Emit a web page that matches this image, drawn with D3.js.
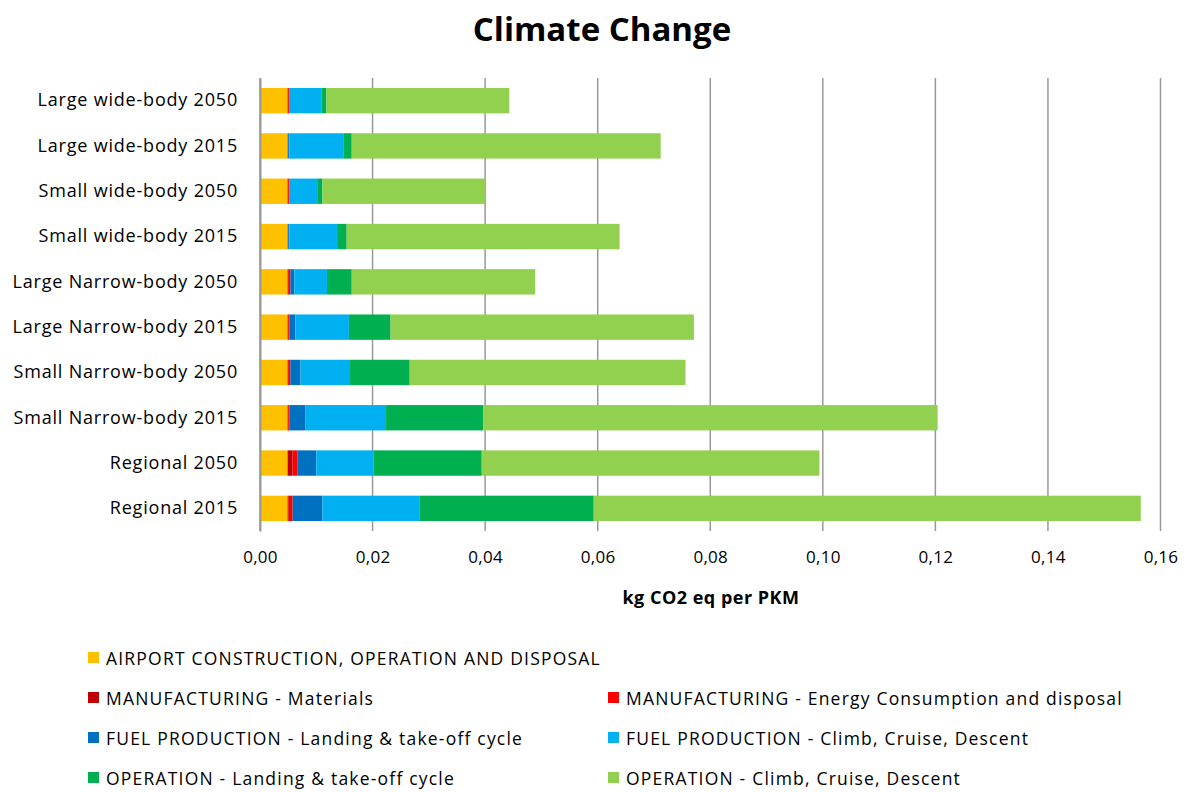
<!DOCTYPE html>
<html>
<head>
<meta charset="utf-8">
<script src="https://cdn.jsdelivr.net/npm/d3@7"></script>
<style>
  body { margin: 0; background: #fff; }
  svg { display: block; font-family: "Open Sans", sans-serif; }
</style>
</head>
<body>
<div id="chart"></div>
<script>
// categories, top to bottom
const categories = [
  "Large wide-body 2050",
  "Large wide-body 2015",
  "Small wide-body 2050",
  "Small wide-body 2015",
  "Large Narrow-body 2050",
  "Large Narrow-body 2015",
  "Small Narrow-body 2050",
  "Small Narrow-body 2015",
  "Regional 2050",
  "Regional 2015"
]
const seriesNames = [
  "AIRPORT CONSTRUCTION, OPERATION AND DISPOSAL",
  "MANUFACTURING - Materials",
  "MANUFACTURING - Energy Consumption and disposal",
  "FUEL PRODUCTION - Landing & take-off cycle",
  "FUEL PRODUCTION - Climb, Cruise, Descent",
  "OPERATION - Landing & take-off cycle",
  "OPERATION - Climb, Cruise, Descent"
]
const colors = ["#FFC000", "#C00000", "#FF0000", "#0070C0", "#00B0F0", "#00B050", "#92D050"]

// kg CO2 eq per PKM
const airport     = [0.0049, 0.0049, 0.0049, 0.0049, 0.0049, 0.0049, 0.0049, 0.0049, 0.0049, 0.0049]
const mfgMaterial = [0.0001, 0.0000, 0.0001, 0.0000, 0.0001, 0.0001, 0.0001, 0.0001, 0.0009, 0.0002]
const mfgEnergy   = [0.0002, 0.0001, 0.0002, 0.0001, 0.0004, 0.0002, 0.0004, 0.0002, 0.0009, 0.0007]
const fuelLTO     = [0.0001, 0.0002, 0.0001, 0.0002, 0.0007, 0.0011, 0.0018, 0.0029, 0.0033, 0.0053]
const fuelCCD     = [0.0056, 0.0097, 0.0050, 0.0085, 0.0058, 0.0095, 0.0088, 0.0143, 0.0102, 0.0173]
const opLTO       = [0.0009, 0.0014, 0.0008, 0.0017, 0.0044, 0.0074, 0.0106, 0.0173, 0.0192, 0.0309]
const opCCD       = [0.0325, 0.0549, 0.0289, 0.0485, 0.0326, 0.0539, 0.0490, 0.0807, 0.0600, 0.0972]
const xTicks = [0, 0.02, 0.04, 0.06, 0.08, 0.10, 0.12, 0.14, 0.16]

const width = 1190
const height = 792
const margin = { top: 78, right: 30, bottom: 261, left: 260 }

const seriesValues = [airport, mfgMaterial, mfgEnergy, fuelLTO, fuelCCD, opLTO, opCCD]
const table = categories.map((c, i) => {
  const row = { cat: c }
  seriesNames.forEach((s, k) => (row[s] = seriesValues[k][i]))
  return row
})
const stacked = d3.stack().keys(seriesNames)(table)

const x = d3.scaleLinear().domain([0, 0.16]).range([margin.left, 1160.5])
const y = d3
  .scaleBand()
  .domain(categories)
  .range([margin.top, height - margin.bottom])
  .paddingInner(0.44)
  .paddingOuter(0.22)

const svg = d3
  .select("#chart")
  .append("svg")
  .attr("width", width)
  .attr("height", height)
  .attr("viewBox", [0, 0, width, height])

// title
svg
  .append("text")
  .attr("x", 602)
  .attr("y", 41)
  .attr("text-anchor", "middle")
  .attr("font-size", 33)
  .attr("font-weight", "bold")
  .attr("fill", "#000")
  .text("Climate Change")

// gridlines
svg
  .append("g")
  .selectAll("line")
  .data(xTicks)
  .join("line")
  .attr("x1", d => x(d))
  .attr("x2", d => x(d))
  .attr("y1", margin.top)
  .attr("y2", height - margin.bottom)
  .attr("stroke", "#999")
  .attr("stroke-width", 1.5)

// bars
svg
  .append("g")
  .selectAll("g")
  .data(stacked)
  .join("g")
  .attr("fill", (d, i) => colors[i])
  .selectAll("rect")
  .data(d => d)
  .join("rect")
  .attr("x", d => x(d[0]))
  .attr("y", d => y(d.data.cat))
  .attr("width", d => Math.max(0, x(d[1]) - x(d[0])))
  .attr("height", y.bandwidth())

// x axis labels
const xAxis = d3
  .axisBottom(x)
  .tickValues(xTicks)
  .tickSize(0)
  .tickPadding(20)
  .tickFormat(d => d.toFixed(2).replace(".", ","))
svg
  .append("g")
  .attr("transform", `translate(0,${height - margin.bottom})`)
  .call(xAxis)
  .call(g => g.select(".domain").remove())
  .selectAll("text")
  .attr("font-size", 17)
  .attr("font-family", "'Open Sans', sans-serif")
  .attr("letter-spacing", 0.3)
  .attr("fill", "#000")

// y axis
const yAxis = d3.axisLeft(y).tickSize(0).tickPadding(22)
svg
  .append("g")
  .attr("transform", `translate(${margin.left},0)`)
  .call(yAxis)
  .call(g => g.select(".domain").attr("stroke", "#999").attr("stroke-width", 2))
  .selectAll("text")
  .attr("font-size", 18)
  .attr("font-family", "'Open Sans', sans-serif")
  .attr("letter-spacing", 0.8)
  .attr("fill", "#000")

// axis title
svg
  .append("text")
  .attr("x", 711)
  .attr("y", 604)
  .attr("text-anchor", "middle")
  .attr("font-size", 18)
  .attr("font-weight", "bold")
  .attr("letter-spacing", 0.5)
  .attr("fill", "#000")
  .text("kg CO2 eq per PKM")

// legend
const legendPos = [
  [88, 658],
  [88, 698], [608, 698],
  [88, 738], [608, 738],
  [88, 778], [608, 778]
]
const legend = svg
  .append("g")
  .selectAll("g")
  .data(seriesNames)
  .join("g")
  .attr("transform", (d, i) => `translate(${legendPos[i][0]},${legendPos[i][1]})`)
legend
  .append("rect")
  .attr("x", 0)
  .attr("y", -6)
  .attr("width", 11)
  .attr("height", 11)
  .attr("fill", (d, i) => colors[i])
legend
  .append("text")
  .attr("x", 18)
  .attr("y", 6.5)
  .attr("font-size", 17.5)
  .attr("letter-spacing", 1.2)
  .attr("fill", "#000")
  .text(d => d)
</script>
</body>
</html>
